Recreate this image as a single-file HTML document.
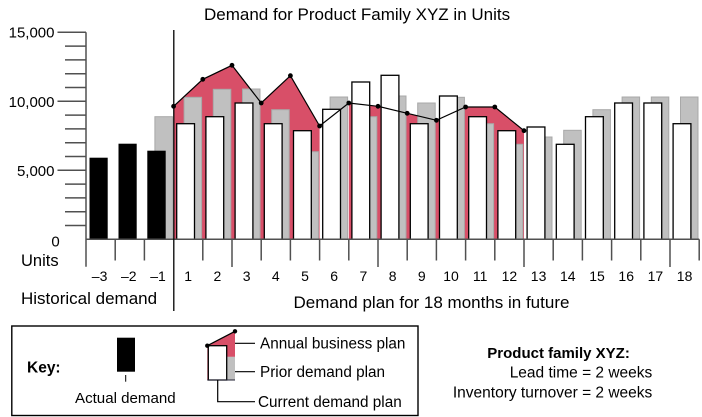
<!DOCTYPE html>
<html><head><meta charset="utf-8"><style>
html,body{margin:0;padding:0;background:#fff;}
svg{display:block;font-family:"Liberation Sans",Arial,sans-serif;}
</style></head><body>
<svg width="702" height="417" viewBox="0 0 702 417" xmlns="http://www.w3.org/2000/svg">
<rect x="0" y="0" width="702" height="417" fill="#fff"/>
<!-- title -->
<text x="204" y="20" font-size="17" fill="#000">Demand for Product Family XYZ in Units</text>

<!-- red annual business plan fill -->
<polygon fill="#d84f68" points="173.6,106.3 202.8,79.3 232,65.3 261.2,103 290.4,75.7 319.6,126 319.6,239.3 173.6,239.3"/>
<polygon fill="#d84f68" points="348.8,103 378,106.3 407.2,113.3 436.4,120.3 465.6,107 494.8,107 524,130.7 524,239.3 348.8,239.3"/>

<!-- gray prior plan bars -->
<g fill="#c0c0c0" stroke="#a8a8a8" stroke-width="1">
<rect x="154.9" y="116.7" width="17.5" height="122.6"/>
<rect x="184.1" y="97.3" width="17.5" height="142"/>
<rect x="213.3" y="89.3" width="17.5" height="150"/>
<rect x="242.5" y="89" width="17.5" height="150.3"/>
<rect x="271.7" y="109.7" width="17.5" height="129.6"/>
<rect x="300.9" y="151.7" width="17.5" height="87.6"/>
<rect x="330.1" y="97" width="17.5" height="142.3"/>
<rect x="359.3" y="116.7" width="17.5" height="122.6"/>
<rect x="388.5" y="96" width="17.5" height="143.3"/>
<rect x="417.7" y="103" width="17.5" height="136.3"/>
<rect x="446.9" y="97.3" width="17.5" height="142"/>
<rect x="476.1" y="123.7" width="17.5" height="115.6"/>
<rect x="505.3" y="144.3" width="17.5" height="95"/>
<rect x="534.5" y="137" width="17.5" height="102.3"/>
<rect x="563.7" y="130.3" width="17.5" height="109"/>
<rect x="592.9" y="109.7" width="17.5" height="129.6"/>
<rect x="622.1" y="97" width="17.5" height="142.3"/>
<rect x="651.3" y="97" width="17.5" height="142.3"/>
<rect x="680.5" y="97" width="17.5" height="142.3"/>
</g>

<!-- white current plan bars -->
<g fill="#fff" stroke="#000" stroke-width="1.3">
<rect x="176.7" y="123.7" width="17.8" height="115.6"/>
<rect x="205.9" y="116.7" width="17.8" height="122.6"/>
<rect x="235.1" y="103" width="17.8" height="136.3"/>
<rect x="264.3" y="123.7" width="17.8" height="115.6"/>
<rect x="293.5" y="130.7" width="17.8" height="108.6"/>
<rect x="322.7" y="109.3" width="17.8" height="130"/>
<rect x="351.9" y="82" width="17.8" height="157.3"/>
<rect x="381.1" y="75.3" width="17.8" height="164"/>
<rect x="410.3" y="123.7" width="17.8" height="115.6"/>
<rect x="439.5" y="96" width="17.8" height="143.3"/>
<rect x="468.7" y="116.7" width="17.8" height="122.6"/>
<rect x="497.9" y="130.7" width="17.8" height="108.6"/>
<rect x="527.1" y="127" width="17.8" height="112.3"/>
<rect x="556.3" y="144.3" width="17.8" height="95"/>
<rect x="585.5" y="116.7" width="17.8" height="122.6"/>
<rect x="614.7" y="103" width="17.8" height="136.3"/>
<rect x="643.9" y="103" width="17.8" height="136.3"/>
<rect x="673.1" y="123.7" width="17.8" height="115.6"/>
</g>

<!-- black historical bars -->
<g fill="#000">
<rect x="89.5" y="157.7" width="18.2" height="81.6"/>
<rect x="118.5" y="143.7" width="18.2" height="95.6"/>
<rect x="147.3" y="150.7" width="18.4" height="88.6"/>
</g>

<!-- business plan line -->
<polyline fill="none" stroke="#000" stroke-width="1.2" points="173.6,106.3 202.8,79.3 232,65.3 261.2,103 290.4,75.7 319.6,126 348.8,103 378,106.3 407.2,113.3 436.4,120.3 465.6,107 494.8,107 524,130.7"/>
<g fill="#000">
<circle cx="173.6" cy="106.3" r="2.4"/><circle cx="202.8" cy="79.3" r="2.4"/><circle cx="232" cy="65.3" r="2.4"/>
<circle cx="261.2" cy="103" r="2.4"/><circle cx="290.4" cy="75.7" r="2.4"/><circle cx="319.6" cy="126" r="2.4"/>
<circle cx="348.8" cy="103" r="2.4"/><circle cx="378" cy="106.3" r="2.4"/><circle cx="407.2" cy="113.3" r="2.4"/>
<circle cx="436.4" cy="120.3" r="2.4"/><circle cx="465.6" cy="107" r="2.4"/><circle cx="494.8" cy="107" r="2.4"/>
<circle cx="524" cy="130.7" r="2.4"/>
</g>

<!-- axes -->
<g stroke="#505050" stroke-width="1.5" fill="none">
<line x1="86" y1="32.3" x2="86" y2="266.7"/>
<line x1="86" y1="239.3" x2="699.2" y2="239.3"/>
<!-- y ticks major -->
<line x1="57.5" y1="32.3" x2="86" y2="32.3"/>
<line x1="57.5" y1="101.3" x2="86" y2="101.3"/>
<line x1="57.5" y1="170.3" x2="86" y2="170.3"/>
<!-- minor -->
<line x1="65" y1="46.1" x2="86" y2="46.1"/>
<line x1="65" y1="59.9" x2="86" y2="59.9"/>
<line x1="65" y1="73.7" x2="86" y2="73.7"/>
<line x1="65" y1="87.5" x2="86" y2="87.5"/>
<line x1="65" y1="115.1" x2="86" y2="115.1"/>
<line x1="65" y1="128.9" x2="86" y2="128.9"/>
<line x1="65" y1="142.7" x2="86" y2="142.7"/>
<line x1="65" y1="156.5" x2="86" y2="156.5"/>
<line x1="65" y1="184.1" x2="86" y2="184.1"/>
<line x1="65" y1="197.9" x2="86" y2="197.9"/>
<line x1="65" y1="211.7" x2="86" y2="211.7"/>
<line x1="65" y1="225.5" x2="86" y2="225.5"/>
<!-- x ticks -->
<line x1="115.2" y1="239.3" x2="115.2" y2="260.5"/>
<line x1="144.4" y1="239.3" x2="144.4" y2="260.5"/>
<line x1="202.8" y1="239.3" x2="202.8" y2="260.5"/>
<line x1="232" y1="239.3" x2="232" y2="267"/>
<line x1="261.2" y1="239.3" x2="261.2" y2="260.5"/>
<line x1="290.4" y1="239.3" x2="290.4" y2="260.5"/>
<line x1="319.6" y1="239.3" x2="319.6" y2="260.5"/>
<line x1="348.8" y1="239.3" x2="348.8" y2="260.5"/>
<line x1="378" y1="239.3" x2="378" y2="267"/>
<line x1="407.2" y1="239.3" x2="407.2" y2="260.5"/>
<line x1="436.4" y1="239.3" x2="436.4" y2="260.5"/>
<line x1="465.6" y1="239.3" x2="465.6" y2="260.5"/>
<line x1="494.8" y1="239.3" x2="494.8" y2="260.5"/>
<line x1="524" y1="239.3" x2="524" y2="267"/>
<line x1="553.2" y1="239.3" x2="553.2" y2="260.5"/>
<line x1="582.4" y1="239.3" x2="582.4" y2="260.5"/>
<line x1="611.6" y1="239.3" x2="611.6" y2="260.5"/>
<line x1="640.8" y1="239.3" x2="640.8" y2="260.5"/>
<line x1="670" y1="239.3" x2="670" y2="267"/>
<line x1="699.2" y1="239.3" x2="699.2" y2="260.5"/>
</g>
<!-- separator -->
<line x1="173.8" y1="30" x2="173.8" y2="311" stroke="#000" stroke-width="1.3"/>

<!-- y labels -->
<g font-size="15" fill="#000" text-anchor="end">
<text x="54.5" y="37.6">15,000</text>
<text x="54.5" y="106.8">10,000</text>
<text x="54.5" y="175.8">5,000</text>
</g>
<text x="55.5" y="246.5" font-size="15" text-anchor="middle">0</text>
<text x="21" y="266" font-size="16.5">Units</text>

<!-- x labels -->
<g font-size="14" fill="#000" text-anchor="middle">
<text x="99.6" y="281">–3</text>
<text x="128.8" y="281">–2</text>
<text x="158" y="281">–1</text>
<text x="188.2" y="281">1</text>
<text x="217.4" y="281">2</text>
<text x="246.6" y="281">3</text>
<text x="275.8" y="281">4</text>
<text x="305" y="281">5</text>
<text x="334.2" y="281">6</text>
<text x="363.4" y="281">7</text>
<text x="392.6" y="281">8</text>
<text x="421.8" y="281">9</text>
<text x="451" y="281">10</text>
<text x="480.2" y="281">11</text>
<text x="509.4" y="281">12</text>
<text x="538.6" y="281">13</text>
<text x="567.8" y="281">14</text>
<text x="597" y="281">15</text>
<text x="626.2" y="281">16</text>
<text x="655.4" y="281">17</text>
<text x="684.6" y="281">18</text>
</g>
<text x="21" y="304" font-size="17">Historical demand</text>
<text x="293.5" y="308" font-size="17">Demand plan for 18 months in future</text>

<!-- key box -->
<rect x="11.8" y="326" width="406.2" height="89.5" fill="none" stroke="#000" stroke-width="1.4"/>
<text x="27" y="372.5" font-size="15.5" font-weight="bold">Key:</text>
<rect x="117" y="337.7" width="18" height="34" fill="#000"/>
<line x1="125.7" y1="375" x2="125.7" y2="381.7" stroke="#000" stroke-width="1"/>
<text x="75" y="403" font-size="15.1">Actual demand</text>

<polygon fill="#d84f68" points="207.3,345.7 235,331.3 235,380 207.3,380"/>
<rect x="226.7" y="356.7" width="8.3" height="23.3" fill="#c0c0c0"/>
<rect x="208.3" y="345.7" width="18.4" height="34.3" fill="#fff" stroke="#000" stroke-width="1.3"/>
<line x1="207.3" y1="380" x2="235" y2="380" stroke="#223" stroke-width="1"/>
<line x1="207.3" y1="345.7" x2="235" y2="331.3" stroke="#000" stroke-width="1.2"/>
<circle cx="207.3" cy="345.7" r="2.2" fill="#000"/>
<circle cx="235" cy="331.3" r="2.2" fill="#000"/>
<g stroke="#000" stroke-width="1.2" fill="none">
<line x1="235" y1="343.3" x2="255" y2="343.3"/>
<line x1="235" y1="371.7" x2="255" y2="371.7"/>
<polyline points="217.7,380 217.7,401.7 255,401.7"/>
</g>
<g font-size="15.3" fill="#000">
<text x="260" y="348.5">Annual business plan</text>
<text x="260" y="377">Prior demand plan</text>
<text x="258" y="407">Current demand plan</text>
</g>

<!-- right info -->
<text x="487.3" y="358" font-size="15" font-weight="bold">Product family XYZ:</text>
<g font-size="15.5" text-anchor="end">
<text x="652.3" y="377.3">Lead time = 2 weeks</text>
<text x="652.3" y="397.3">Inventory turnover = 2 weeks</text>
</g>
</svg>
</body></html>
